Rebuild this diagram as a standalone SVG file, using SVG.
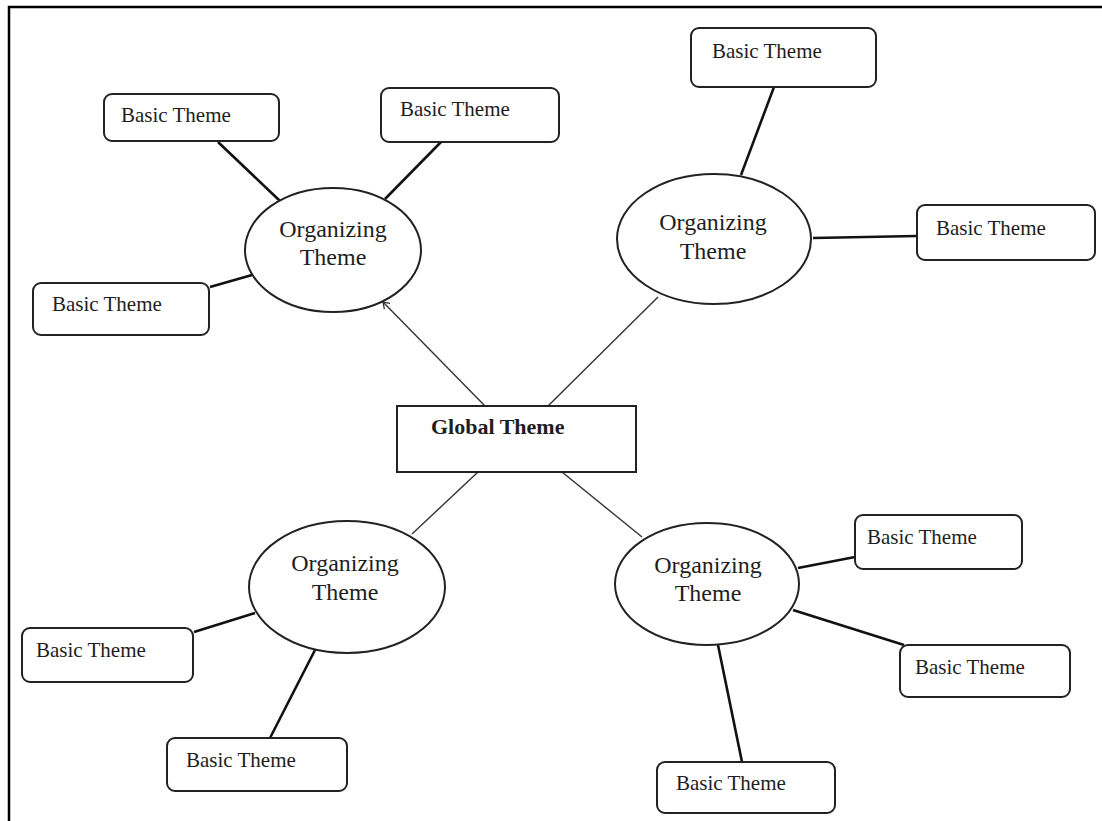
<svg xmlns="http://www.w3.org/2000/svg" width="1102" height="821" viewBox="0 0 1102 821">
<defs>
<style>
.box{fill:#fff;stroke:#222;stroke-width:2}
.ell{fill:#fff;stroke:#222;stroke-width:2}
.bt{font-family:"Liberation Serif",serif;font-size:21px;fill:#1e1e1e}
.ot{font-family:"Liberation Serif",serif;font-size:24px;fill:#1e1e1e;text-anchor:middle}
.gt{font-family:"Liberation Serif",serif;font-size:22px;font-weight:bold;fill:#1e1e1e}
.thin{stroke:#333;stroke-width:1.4;fill:none}
.thick{stroke:#111;stroke-width:2.6;fill:none}
</style>
<marker id="arr" markerWidth="10" markerHeight="10" refX="8" refY="5" orient="auto" markerUnits="userSpaceOnUse">
<path d="M2,1 L8,5 L2,9" fill="none" stroke="#333" stroke-width="1.3"/>
</marker>
</defs>
<rect x="0" y="0" width="1102" height="821" fill="#fff"/>
<path d="M9,821 L9,7 L1102,7" fill="none" stroke="#000" stroke-width="2.5"/>
<g id="connectors">
<line class="thin" x1="485" y1="406" x2="383" y2="302" marker-end="url(#arr)"/>
<line class="thin" x1="548" y1="406" x2="658" y2="297"/>
<line class="thin" x1="478" y1="472" x2="412" y2="534"/>
<line class="thin" x1="562" y1="472" x2="642" y2="537"/>
<line class="thick" x1="218" y1="142" x2="280" y2="201"/>
<line class="thick" x1="441" y1="142" x2="385" y2="199"/>
<line class="thick" x1="210" y1="287" x2="252" y2="275"/>
<line class="thick" x1="774" y1="87" x2="741" y2="175"/>
<line class="thick" x1="813" y1="238" x2="917" y2="236"/>
<line class="thick" x1="194" y1="632" x2="255" y2="613"/>
<line class="thick" x1="270" y1="738" x2="315" y2="650"/>
<line class="thick" x1="798" y1="568" x2="855" y2="557"/>
<line class="thick" x1="793" y1="610" x2="904" y2="645"/>
<line class="thick" x1="718" y1="645" x2="742" y2="762"/>
</g>
<g id="global">
<rect class="box" x="397" y="406" width="239" height="66"/>
<text class="gt" x="431" y="434">Global Theme</text>
</g>
<g id="org-tl">
<ellipse class="ell" cx="333" cy="250" rx="88" ry="62"/>
<text class="ot" x="333" y="237">Organizing</text>
<text class="ot" x="333" y="265">Theme</text>
</g>
<g id="org-tr">
<ellipse class="ell" cx="714" cy="239" rx="97" ry="65"/>
<text class="ot" x="713" y="230">Organizing</text>
<text class="ot" x="713" y="259">Theme</text>
</g>
<g id="org-bl">
<ellipse class="ell" cx="347" cy="587" rx="98" ry="66"/>
<text class="ot" x="345" y="571">Organizing</text>
<text class="ot" x="345" y="600">Theme</text>
</g>
<g id="org-br">
<ellipse class="ell" cx="707" cy="584" rx="92" ry="61"/>
<text class="ot" x="708" y="573">Organizing</text>
<text class="ot" x="708" y="601">Theme</text>
</g>
<g id="b-tl1"><rect class="box" x="104" y="94" width="175" height="47" rx="8"/><text class="bt" x="121" y="122">Basic Theme</text></g>
<g id="b-tl2"><rect class="box" x="381" y="88" width="178" height="54" rx="8"/><text class="bt" x="400" y="116">Basic Theme</text></g>
<g id="b-tl3"><rect class="box" x="33" y="283" width="176" height="52" rx="8"/><text class="bt" x="52" y="311">Basic Theme</text></g>
<g id="b-tr1"><rect class="box" x="691" y="28" width="185" height="59" rx="8"/><text class="bt" x="712" y="58">Basic Theme</text></g>
<g id="b-tr2"><rect class="box" x="917" y="205" width="178" height="55" rx="8"/><text class="bt" x="936" y="235">Basic Theme</text></g>
<g id="b-bl1"><rect class="box" x="22" y="628" width="171" height="54" rx="8"/><text class="bt" x="36" y="657">Basic Theme</text></g>
<g id="b-bl2"><rect class="box" x="167" y="738" width="180" height="53" rx="8"/><text class="bt" x="186" y="767">Basic Theme</text></g>
<g id="b-br1"><rect class="box" x="855" y="515" width="167" height="54" rx="8"/><text class="bt" x="867" y="544">Basic Theme</text></g>
<g id="b-br2"><rect class="box" x="900" y="645" width="170" height="52" rx="8"/><text class="bt" x="915" y="674">Basic Theme</text></g>
<g id="b-br3"><rect class="box" x="657" y="762" width="178" height="51" rx="8"/><text class="bt" x="676" y="790">Basic Theme</text></g>
</svg>
